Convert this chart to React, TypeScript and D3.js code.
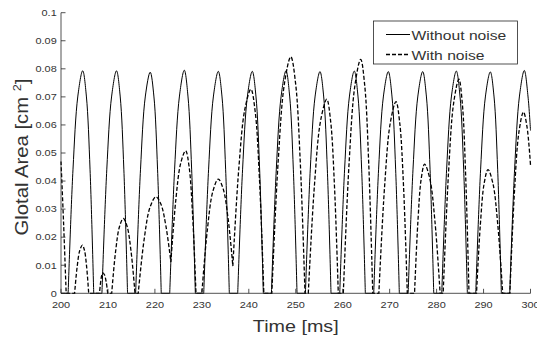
import React from "react";
import { scaleLinear, line, curveCatmullRom } from "d3";

// glottal area, clean source (ms, cm^2)
const cleanTime = [
  200,
  201.52, 202.55, 203.59, 204.62, 205.4, 206.19, 206.97,
  208.72, 209.75, 210.79, 211.82, 212.6, 213.39, 214.17,
  215.9, 216.93, 217.97, 219.0, 219.78, 220.57, 221.35,
  223.16, 224.19, 225.23, 226.26, 227.04, 227.83, 228.61,
  230.4, 231.43, 232.47, 233.5, 234.28, 235.07, 235.85,
  237.64, 238.67, 239.71, 240.74, 241.52, 242.31, 243.09,
  244.82, 245.85, 246.89, 247.92, 248.7, 249.49, 250.27,
  252.06, 253.09, 254.13, 255.16, 255.94, 256.73, 257.51,
  259.37, 260.4, 261.44, 262.47, 263.25, 264.04, 264.82,
  266.61, 267.64, 268.68, 269.71, 270.49, 271.28, 272.06,
  273.94, 274.97, 276.01, 277.04, 277.82, 278.61, 279.39,
  281.1, 282.13, 283.17, 284.2, 284.98, 285.77, 286.55,
  288.34, 289.37, 290.41, 291.44, 292.22, 293.01, 293.79,
  295.58, 296.61, 297.65, 298.68, 299.46, 300,
];
const cleanArea = [
  0,
  0, 0.044, 0.0703, 0.0793, 0.0703, 0.044, 0,
  0, 0.044, 0.0703, 0.0793, 0.0703, 0.044, 0,
  0, 0.044, 0.0703, 0.0788, 0.0703, 0.044, 0,
  0, 0.044, 0.0703, 0.0795, 0.0703, 0.044, 0,
  0, 0.044, 0.0703, 0.0791, 0.0703, 0.044, 0,
  0, 0.044, 0.0703, 0.0791, 0.0703, 0.044, 0,
  0, 0.044, 0.0703, 0.0793, 0.0703, 0.044, 0,
  0, 0.044, 0.0703, 0.079, 0.0703, 0.044, 0,
  0, 0.044, 0.0703, 0.0792, 0.0703, 0.044, 0,
  0, 0.044, 0.0703, 0.079, 0.0703, 0.044, 0,
  0, 0.044, 0.0703, 0.079, 0.0703, 0.044, 0,
  0, 0.044, 0.0703, 0.0792, 0.0703, 0.044, 0,
  0, 0.044, 0.0703, 0.0789, 0.0703, 0.044, 0,
  0, 0.044, 0.0703, 0.0794, 0.0703, 0.058,
];

// glottal area with noise
const noisyTime = [
  200, 200.55, 201.1,
  202.9, 203.45, 204.0, 204.55, 205.0, 205.45, 205.9,
  208.2, 208.45, 208.7, 208.95, 209.28, 209.62, 209.95,
  210.8, 211.62, 212.45, 213.27, 214.1, 214.93, 215.76,
  216.45, 217.7, 218.95, 220.2, 221.27, 222.33, 223.4,
  224.45, 225.5, 226.55, 227.28, 228.02, 228.75,
  230.0, 231.17, 232.33, 233.5, 234.53, 235.57, 236.6,
  237.88, 239.17, 240.45, 241.37, 242.28, 243.2,
  244.9, 246.25, 247.6, 248.95, 249.96, 250.96, 251.97,
  252.67, 253.98, 255.29, 256.6, 257.42, 258.24, 259.06,
  260.13, 261.36, 262.6, 263.83, 264.69, 265.54, 266.4,
  267.7, 268.92, 270.13, 271.35, 272.15, 272.96, 273.76,
  275.3, 276.02, 276.73, 277.45, 278.55, 279.65, 280.75,
  281.4, 282.52, 283.63, 284.75, 285.47, 286.18, 286.9,
  288.5, 289.32, 290.13, 290.95, 291.99, 293.03, 294.07,
  295.6, 296.57, 297.53, 298.5, 299.25, 300,
];
const noisyArea = [
  0.047, 0.025, 0,
  0, 0.0096, 0.0153, 0.0172, 0.0153, 0.0096, 0,
  0, 0.0041, 0.0065, 0.0073, 0.0065, 0.0041, 0,
  0, 0.0148, 0.0237, 0.0267, 0.0237, 0.0148, 0,
  0, 0.0191, 0.0306, 0.0344, 0.0318, 0.0241, 0.0112,
  0.0332, 0.0464, 0.0508, 0.0452, 0.0282, 0,
  0, 0.0226, 0.0362, 0.0407, 0.0373, 0.0269, 0.0097,
  0.0447, 0.0657, 0.0727, 0.0646, 0.0404, 0,
  0, 0.0469, 0.0749, 0.0843, 0.0749, 0.0469, 0,
  0, 0.0385, 0.0615, 0.0692, 0.0615, 0.0385, 0,
  0, 0.0464, 0.0741, 0.0834, 0.0741, 0.0464, 0,
  0, 0.038, 0.0607, 0.0683, 0.0607, 0.038, 0,
  0, 0.0256, 0.0409, 0.046, 0.0409, 0.0256, 0,
  0, 0.0424, 0.0678, 0.0763, 0.0678, 0.0424, 0,
  0, 0.0245, 0.0392, 0.0441, 0.0392, 0.0245, 0,
  0, 0.0359, 0.0574, 0.0646, 0.0594, 0.0457,
];

const timeTicks = [200, 210, 220, 230, 240, 250, 260, 270, 280, 290, 300];
const areaTicks = [0, 0.01, 0.02, 0.03, 0.04, 0.05, 0.06, 0.07, 0.08, 0.09, 0.1];
const seriesNames = ["Without noise", "With noise"];

const W = 537, H = 340;
const INK = "#262626";
const TEXT = "#333";
const FONT = "'Liberation Sans', Arial, Helvetica, sans-serif";
const STRETCH = 1.16; // reference font is wider than Arial

const x = scaleLinear().domain([200, 300]).range([61, 530.5]);
const y = scaleLinear().domain([0, 0.1]).range([293.3, 12.7]);

type Pt = [number, number];

// break the trace at every local minimum so pulses meet the floor with sharp corners
function tracePath(ts: number[], vs: number[]) {
  const pts: Pt[] = ts.map((t, i) => [t, vs[i]]);
  const segs: Pt[][] = [];
  let cur: Pt[] = [pts[0]];
  for (let i = 1; i < pts.length; i++) {
    cur.push(pts[i]);
    const prev = pts[i - 1][1], v = pts[i][1];
    const next = i + 1 < pts.length ? pts[i + 1][1] : Infinity;
    if (v <= prev && v <= next && i < pts.length - 1) {
      segs.push(cur);
      cur = [pts[i]];
    }
  }
  if (cur.length > 1) segs.push(cur);
  const gen = line<Pt>()
    .x((d) => x(d[0]))
    .y((d) => y(d[1]))
    .curve(curveCatmullRom.alpha(0.5));
  return segs.map((s, i) => (i === 0 ? gen(s)! : gen(s)!.replace(/^M/, "L"))).join("");
}

function Label({ tx, ty, size, anchor = "middle", rotate = 0, children }: any) {
  return (
    <g transform={`translate(${tx},${ty}) rotate(${rotate})`}>
      <text transform={`scale(${STRETCH},1)`} fontSize={size} textAnchor={anchor} fill={TEXT} fontFamily={FONT}>
        {children}
      </text>
    </g>
  );
}

export default function App() {
  const cleanD = tracePath(cleanTime, cleanArea);
  const noisyD = tracePath(noisyTime, noisyArea);
  const [x0, x1] = x.range();
  const [y0, y1] = y.range();

  return (
    <svg width={W} height={H} style={{ position: "absolute", left: 0, top: 0, background: "#fff" }}>
      <rect width={W} height={H} fill="#fff" />

      <path d={cleanD} fill="none" stroke="#000" strokeWidth={1} />
      <path d={noisyD} fill="none" stroke="#000" strokeWidth={1.3} strokeDasharray="4,2" />

      {/* axes, MATLAB style: box off, ticks inward */}
      <line x1={x0} x2={x1} y1={y0} y2={y0} stroke={INK} strokeWidth={0.8} />
      <line x1={x0} x2={x0} y1={y0} y2={y1} stroke={INK} strokeWidth={0.8} />
      {timeTicks.map((t) => (
        <g key={t}>
          <line x1={x(t)} x2={x(t)} y1={y0} y2={y0 - 4.5} stroke={INK} strokeWidth={0.8} />
          <Label tx={x(t)} ty={308.3} size={9.4}>{t}</Label>
        </g>
      ))}
      {areaTicks.map((v) => (
        <g key={v}>
          <line x1={x0} x2={x0 + 4.5} y1={y(v)} y2={y(v)} stroke={INK} strokeWidth={0.8} />
          <Label tx={56.7} ty={y(v) + 3.3} size={9.4} anchor="end">{String(+v.toFixed(2))}</Label>
        </g>
      ))}

      <Label tx={(x0 + x1) / 2} ty={331.7} size={17}>Time [ms]</Label>
      <Label tx={27.5} ty={157} size={17.5} rotate={-90}>
        Glotal Area [cm <tspan fontSize={11} dy={-7}>2</tspan><tspan dy={7}>]</tspan>
      </Label>

      {/* legend */}
      <rect x={373.5} y={21} width={144} height={43} fill="#fff" stroke={INK} strokeWidth={0.8} />
      <line x1={386} x2={410} y1={34.5} y2={34.5} stroke="#000" strokeWidth={1} />
      <line x1={386} x2={410} y1={54.5} y2={54.5} stroke="#000" strokeWidth={1.3} strokeDasharray="4,2" />
      <Label tx={411.5} ty={39.5} size={13.5} anchor="start">{seriesNames[0]}</Label>
      <Label tx={411.5} ty={59.5} size={13.5} anchor="start">{seriesNames[1]}</Label>
    </svg>
  );
}
